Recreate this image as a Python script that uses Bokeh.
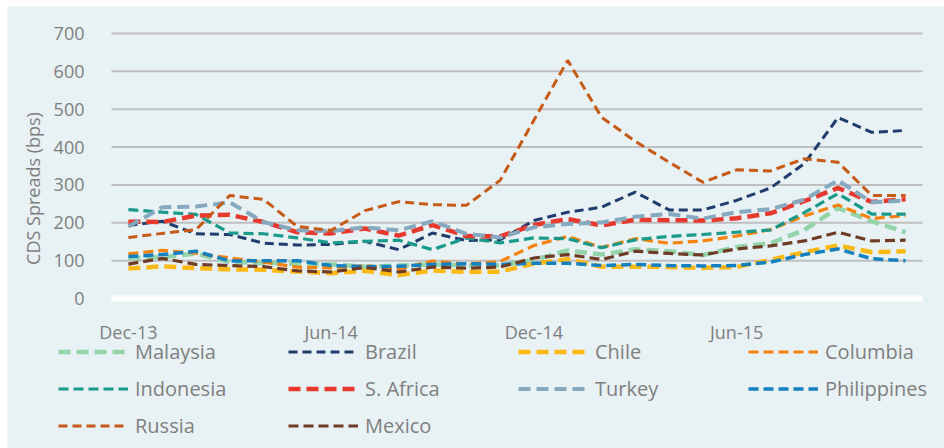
from bokeh.plotting import figure
from bokeh.models import Legend, LegendItem, Label, FixedTicker, Range1d
from bokeh.embed import file_html
from bokeh.resources import INLINE
from bokeh.core.properties import value

months = ["Dec-13", "Jan-14", "Feb-14", "Mar-14", "Apr-14", "May-14", "Jun-14",
          "Jul-14", "Aug-14", "Sep-14", "Oct-14", "Nov-14", "Dec-14", "Jan-15",
          "Feb-15", "Mar-15", "Apr-15", "May-15", "Jun-15", "Jul-15", "Aug-15",
          "Sep-15", "Oct-15", "Nov-15"]
tick_labels = ["Dec-13", "Jun-14", "Dec-14", "Jun-15"]
y_ticks = [0, 100, 200, 300, 400, 500, 600, 700]

malaysia = [107, 109, 119, 96, 94, 92, 90, 84, 87, 90, 87, 87, 102, 127, 116, 130, 125, 115, 136, 146, 181, 239, 204, 175]
brazil = [193, 204, 171, 169, 146, 141, 143, 151, 129, 173, 153, 155, 206, 228, 241, 281, 234, 234, 259, 292, 356, 478, 439, 444]
chile = [79, 85, 80, 77, 76, 71, 67, 73, 62, 74, 70, 71, 92, 104, 84, 84, 83, 81, 83, 102, 122, 140, 122, 125]
columbia = [118, 127, 120, 107, 96, 83, 81, 87, 78, 99, 91, 98, 140, 164, 135, 158, 146, 152, 165, 182, 218, 247, 211, 219]
indonesia = [235, 228, 222, 173, 171, 160, 147, 151, 154, 129, 160, 147, 160, 158, 134, 155, 164, 169, 175, 181, 227, 277, 223, 223]
s_africa = [203, 202, 219, 221, 202, 175, 172, 185, 166, 194, 165, 164, 194, 210, 193, 208, 207, 206, 212, 225, 257, 292, 255, 262]
turkey = [190, 241, 243, 254, 202, 180, 178, 188, 180, 204, 171, 161, 188, 197, 201, 216, 223, 211, 228, 236, 261, 312, 254, 259]
philippines = [111, 116, 125, 99, 100, 100, 87, 84, 85, 90, 92, 90, 93, 93, 87, 90, 87, 86, 87, 96, 116, 131, 105, 100]
russia = [161, 172, 182, 272, 262, 190, 180, 232, 256, 248, 246, 312, 471, 629, 479, 415, 360, 307, 340, 337, 369, 360, 272, 272]
mexico = [91, 106, 90, 87, 84, 73, 70, 82, 70, 83, 80, 83, 107, 116, 103, 125, 119, 115, 131, 139, 152, 175, 152, 154]

BG = "#E8F1F4"
TXT = "#7F7F7F"
FONT = "Open Sans"

# page-pixel layout of the chart (figure placed at left=7, top=6)
FIG_L, FIG_T, FIG_W, FIG_H = 7, 6, 937, 442
PLOT_L, PLOT_R, PLOT_T, PLOT_B = 111, 922, 33, 298
n = len(months)
ymax = y_ticks[-1]
px_x = (PLOT_R - PLOT_L) / n
px_y = (PLOT_B - PLOT_T) / ymax
x_start = -0.5 - (PLOT_L - FIG_L) / px_x
x_end = n - 0.5 + (FIG_L + FIG_W - PLOT_R) / px_x
y_start = -(FIG_T + FIG_H - PLOT_B) / px_y
y_end = ymax + (PLOT_T - FIG_T) / px_y

x = list(range(n))

p = figure(width=FIG_W, height=FIG_H, margin=(FIG_T, 0, 0, FIG_L),
           output_backend="svg", toolbar_location=None,
           x_range=Range1d(x_start, x_end), y_range=Range1d(y_start, y_end),
           min_border=0, background_fill_color=BG, border_fill_color=BG,
           outline_line_color=None, title=None)

p.xgrid.visible = False
p.ygrid.visible = False
grid_y = y_ticks[1:]
p.segment(x0=[-0.5] * len(grid_y), y0=grid_y, x1=[n - 0.5] * len(grid_y), y1=grid_y,
          line_color="#BFBFBF", line_width=2, level="underlay")

series = [
    ("Malaysia", malaysia, "#93D4AB", 4.5, "12 6"),
    ("Brazil", brazil, "#1F3C6C", 3, "9 5"),
    ("Chile", chile, "#FDB913", 4.5, "12 6"),
    ("Columbia", columbia, "#F5820D", 3.2, "10 5"),
    ("Indonesia", indonesia, "#1A9A8A", 3.2, "10 5"),
    ("S. Africa", s_africa, "#E8392E", 4.5, "12 6"),
    ("Turkey", turkey, "#86A9C0", 4, "12 6"),
    ("Philippines", philippines, "#1380C2", 3.5, "10 5"),
    ("Russia", russia, "#C65A17", 3, "9 5"),
    ("Mexico", mexico, "#6E3B24", 3.2, "10 5"),
]

renderers = {}
for name, ys, color, w, dash in series:
    renderers[name] = p.line(x, ys, line_color=color, line_width=w, line_dash=dash)

# axes (fixed inside the frame)
xa = p.xaxis[0]
xa.fixed_location = 0
xa.bounds = (-0.5, n - 0.5)
xa.ticker = FixedTicker(ticks=[months.index(t) for t in tick_labels])
xa.major_label_overrides = {months.index(t): t for t in tick_labels}
xa.axis_line_color = "white"
xa.axis_line_width = 6
xa.major_tick_line_color = None
xa.minor_tick_line_color = None
xa.major_label_standoff = 15
xa.major_label_text_font = FONT
xa.major_label_text_font_size = "18px"
xa.major_label_text_color = TXT

ya = p.yaxis[0]
ya.fixed_location = -0.5
ya.bounds = (0, ymax)
ya.ticker = FixedTicker(ticks=y_ticks)
ya.axis_line_color = None
ya.major_tick_line_color = None
ya.minor_tick_line_color = None
ya.major_label_standoff = 21
ya.major_label_text_font = FONT
ya.major_label_text_font_size = "18px"
ya.major_label_text_color = TXT

p.add_layout(Label(x=-0.5 - (PLOT_L - 32) / px_x, y=(PLOT_B - 188) / px_y,
                   text="CDS Spreads (bps)", angle=1.5707963267948966,
                   text_align="center", text_baseline="middle",
                   text_font=FONT, text_font_size="18px", text_color=TXT))

rows = [["Malaysia", "Brazil", "Chile", "Columbia"],
        ["Indonesia", "S. Africa", "Turkey", "Philippines"],
        ["Russia", "Mexico"]]
row_centers = [351, 388, 425]
for k, row in enumerate(rows):
    pad = 5
    H = 27 + 2 * pad
    vy = (FIG_T + FIG_H) - (row_centers[k] + H / 2)
    leg = Legend(items=[LegendItem(label=value(nm), renderers=[renderers[nm]]) for nm in row],
                 orientation="horizontal", location=(58 - pad - FIG_L, vy),
                 glyph_width=70, glyph_height=27, label_height=27, label_width=153,
                 label_standoff=7, spacing=0, padding=pad, margin=0,
                 background_fill_alpha=0, border_line_alpha=0,
                 label_text_font=FONT, label_text_font_size="20px",
                 label_text_color=TXT, label_text_baseline="middle")
    p.add_layout(leg)

open("out.html", "w").write(file_html(p, INLINE))
